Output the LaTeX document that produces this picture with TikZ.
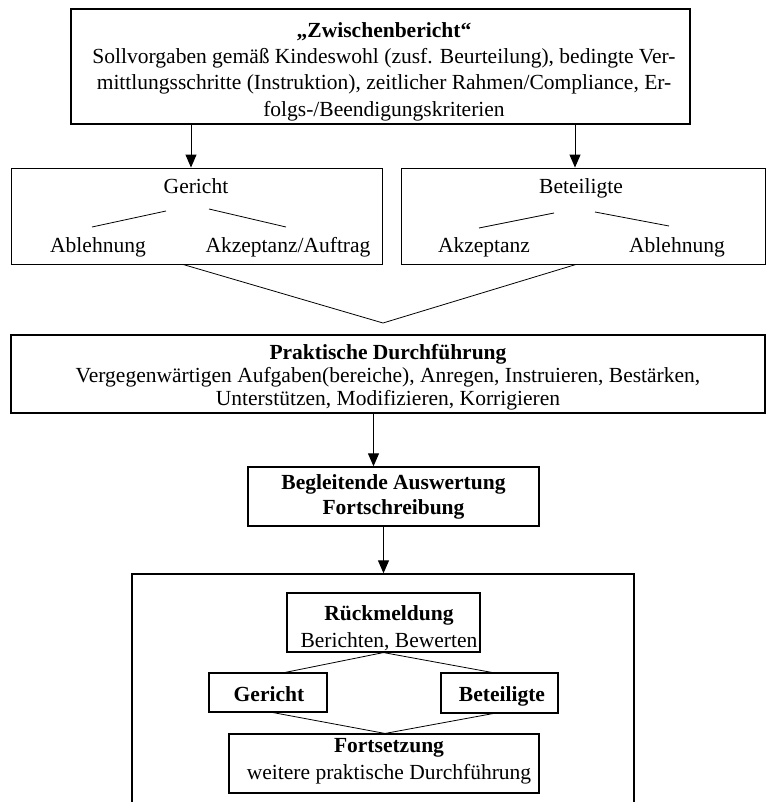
\documentclass[tikz,border=0pt]{standalone}
\usepackage{fontspec}
\setmainfont{Liberation Serif}
\usetikzlibrary{arrows.meta}
\begin{document}
\begin{tikzpicture}[x=1bp,y=-1bp,
  box/.style={draw, line width=1.4bp, inner sep=0, align=center},
  thinbox/.style={draw, line width=0.9bp, inner sep=0},
  txt/.style={inner sep=0, align=center, font=\fontsize{21.6}{26.5}\selectfont},
  lab/.style={inner sep=0, anchor=base, font=\fontsize{21.6}{26}\selectfont},
  conn/.style={line width=0.8bp},
  arr/.style={line width=1bp, -{Triangle[length=13bp,width=11bp]}}
]
\useasboundingbox (0,0) rectangle (766,802);

% top box
\node[box, minimum width=619bp, minimum height=115bp] (zb) at (380.5,66.5) {};
\node[txt] (zbt) at (384,71.5) {\textbf{„Zwischenbericht“}\\
Sollvorgaben gemäß Kindeswohl (zusf. Beurteilung), bedingte Ver-\\
mittlungsschritte (Instruktion), zeitlicher Rahmen/Compliance, Er-\\
folgs-/Beendigungskriterien};

% Gericht / Beteiligte boxes
\node[thinbox, minimum width=371bp, minimum height=96bp] (ger) at (196.5,216) {};
\node[thinbox, minimum width=364bp, minimum height=96bp] (bet) at (583,216) {};

\node[lab] (gt) at (196,193) {Gericht};
\node[lab] (ga) at (98,252) {Ablehnung};
\node[lab] (gb) at (288,252) {Akzeptanz/Auftrag};
\node[lab] (bt) at (581,193) {Beteiligte};
\node[lab] (ba) at (484,252) {Akzeptanz};
\node[lab] (bb) at (677,252) {Ablehnung};

\coordinate (g1) at (166,211); \coordinate (g2) at (92,227);
\coordinate (g3) at (209,209); \coordinate (g4) at (286,227);
\coordinate (b1) at (554,213); \coordinate (b2) at (479,228);
\coordinate (b3) at (595,212); \coordinate (b4) at (669,226);
\draw[conn] (g1) -- (g2);
\draw[conn] (g3) -- (g4);
\draw[conn] (b1) -- (b2);
\draw[conn] (b3) -- (b4);

\draw[arr] ([xshift=-5.5bp]ger.north |- zb.south) -- ([xshift=-5.5bp]ger.north);
\draw[arr] ([xshift=-8bp]bet.north |- zb.south) -- ([xshift=-8bp]bet.north);

% Praktische Durchfuehrung
\node[box, minimum width=754bp, minimum height=78bp] (prak) at (388,374) {};
\node[txt, font=\fontsize{21.6}{23}\selectfont] (prakt) at (388,377)
  {\textbf{Praktische Durchführung}\\
   Vergegenwärtigen Aufgaben(bereiche), Anregen, Instruieren, Bestärken,\\
   Unterstützen, Modifizieren, Korrigieren};

\coordinate (apex) at (383,323);
\draw[conn] ([xshift=-13.5bp]ger.south) -- (apex) -- ([xshift=-7bp]bet.south);

% Begleitende Auswertung
\node[box, minimum width=291bp, minimum height=59bp,
      font=\bfseries\fontsize{21.6}{25}\selectfont] (begl) at (393.5,496.5)
  {Begleitende Auswertung\\Fortschreibung};
\draw[arr] ([xshift=-20bp]begl.north |- prak.south) -- ([xshift=-20bp]begl.north);

% outer bottom box (open at the bottom)
\node[box, minimum width=502bp, minimum height=240bp] (outer) at (383,694) {};
\draw[arr] ([xshift=-10bp]begl.south) -- ([xshift=-10bp]begl.south |- outer.north);

% Rueckmeldung
\node[box, line width=1.1bp, minimum width=193bp, minimum height=59bp] (rm) at (383.5,622.5) {};
\node[txt, font=\fontsize{21.6}{27}\selectfont] (rmt) at (389,628.5) {\textbf{Rückmeldung}\\Berichten, Bewerten};

\node[box, line width=1.1bp, minimum width=118bp, minimum height=39bp] (gs) at (268,692.5) {};
\node[lab, font=\bfseries\fontsize{21.6}{25}\selectfont] (gst) at (269,701) {Gericht};
\node[box, line width=1.1bp, minimum width=117bp, minimum height=40bp] (bs) at (499.5,693) {};
\node[lab, font=\bfseries\fontsize{21.6}{25}\selectfont] (bst) at (502,701) {Beteiligte};

\node[box, line width=1.1bp, minimum width=310bp, minimum height=59bp] (fo) at (384,763.5) {};
\node[txt, font=\fontsize{21.6}{27}\selectfont] (fot) at (389,761.5) {\textbf{Fortsetzung}\\weitere praktische Durchführung};

\draw[conn] ([xshift=17bp]gs.north) -- (rm.south) -- ([xshift=-7.5bp]bs.north);
\draw[conn] ([xshift=5bp]gs.south) -- ([xshift=1bp]fo.north) -- ([xshift=-6.5bp]bs.south);
\end{tikzpicture}
\end{document}
